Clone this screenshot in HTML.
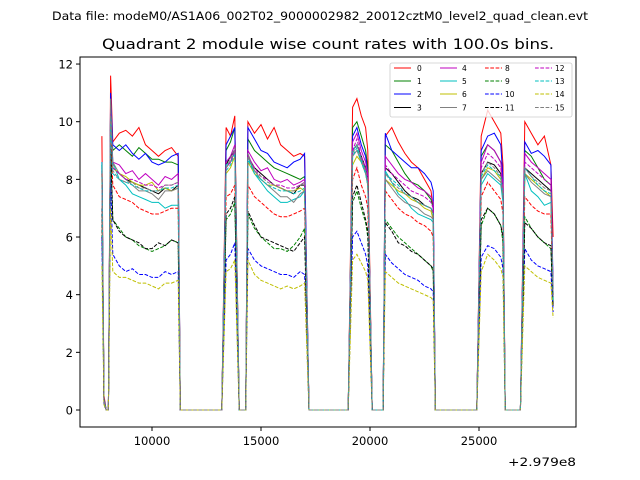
<!DOCTYPE html>
<html><head><meta charset="utf-8">
<style>
html,body{margin:0;padding:0;background:#fff;}
svg{display:block;font-family:"DejaVu Sans","Liberation Sans",sans-serif;}
</style></head>
<body>
<svg id="chart" width="640" height="480" viewBox="0 0 640 480">
<rect x="0" y="0" width="640" height="480" fill="#fff"/>
<text x="52" y="20" font-size="11.5" textLength="536" lengthAdjust="spacingAndGlyphs">Data file: modeM0/AS1A06_002T02_9000002982_20012cztM0_level2_quad_clean.evt</text>
<text x="102" y="49" font-size="14.5" textLength="452" lengthAdjust="spacingAndGlyphs">Quadrant 2 module wise count rates with 100.0s bins.</text>
<g id="plot"></g>
<rect x="80" y="57" width="496" height="370" fill="none" stroke="#000" stroke-width="1"/>
<g id="ticks"></g>
<text x="508" y="466" font-size="11.5" textLength="68" lengthAdjust="spacingAndGlyphs">+2.979e8</text>
<g id="legend"></g>
</svg>
<script>
const times = [7700,7800,7900,8000,8100,8200,8500,8800,9100,9400,9700,10000,10300,10600,10900,11200,11300,
13200,13400,13600,13800,14000,14300,
14400,14700,15000,15300,15600,15900,16200,16500,16800,17000,17200,
19000,19200,19400,19600,19800,19900,20100,
20600,20700,21000,21300,21600,21900,22200,22500,22800,22900,23000,
24900,25100,25400,25700,26000,26100,26200,
26900,27100,27400,27700,28000,28300,28400];
const s0 = [9.5,0.5,0,0,11.6,9.3,9.6,9.7,9.5,9.8,9.2,9.0,8.8,9.0,9.1,8.8,0, 0,9.8,9.5,10.2,0,0, 10.0,9.6,9.9,9.4,9.8,9.2,9.0,8.8,8.9,8.8,0, 0,10.5,10.8,10.2,9.8,9.0,0, 0,9.5,9.8,9.3,8.9,8.6,8.4,8.0,7.6,7.0,0, 0,9.5,10.4,10.0,9.6,8.5,0, 0,10.0,9.6,9.2,9.5,8.5,6.0];
const s1 = [8.5,0.4,0,0,10.5,9.0,9.2,9.0,8.8,9.1,8.9,8.7,8.7,8.6,8.6,8.5,0, 0,9.0,9.3,9.8,0,0, 9.4,9.0,8.8,8.6,8.4,8.3,8.2,8.1,8.0,8.1,0, 0,9.8,10.0,9.5,9.0,8.4,0, 0,9.2,9.0,8.6,8.2,7.9,7.8,7.6,7.3,7.0,0, 0,8.8,9.2,9.0,8.6,7.8,0, 0,9.0,8.8,8.4,8.0,7.8,4.0];
const s2 = [8.6,0.4,0,0,11.0,9.2,9.0,9.2,8.9,8.7,8.9,8.6,8.5,8.6,8.8,8.9,0, 0,9.2,9.5,9.8,0,0, 9.8,9.4,9.0,8.9,8.6,8.5,8.4,8.6,8.7,8.9,0, 0,9.5,9.8,9.2,8.8,8.2,0, 0,9.6,9.0,8.8,8.6,8.4,8.4,8.2,7.9,7.6,0, 0,9.0,9.5,9.6,9.2,8.0,0, 0,9.3,8.9,9.0,8.8,8.5,4.2];
const s3 = [8.2,0.3,0,0,10.6,8.4,8.2,8.0,7.9,7.8,7.7,7.6,7.5,7.7,7.6,7.8,0, 0,8.5,8.8,9.0,0,0, 8.8,8.4,8.2,8.0,7.8,7.7,7.6,7.5,7.8,7.8,0, 0,9.0,9.2,8.8,8.4,8.0,0, 0,8.4,8.2,7.9,7.6,7.4,7.3,7.1,7.0,6.8,0, 0,8.2,8.6,8.5,8.2,7.5,0, 0,8.4,8.2,8.0,7.8,7.6,3.8];
const s4 = [8.4,0.3,0,0,10.4,8.6,8.5,8.2,8.3,8.0,8.2,8.0,7.8,8.1,8.0,8.2,0, 0,8.6,8.8,9.2,0,0, 9.0,8.6,8.3,8.4,8.0,7.9,8.0,7.8,7.9,8.0,0, 0,9.3,9.6,9.0,8.6,8.2,0, 0,8.8,8.5,8.2,8.0,7.9,7.7,7.6,7.4,7.2,0, 0,8.6,9.2,9.0,8.6,7.8,0, 0,8.9,8.6,8.4,8.2,8.0,4.0];
const s5 = [8.6,0.3,0,0,10.0,8.6,8.0,7.8,7.5,7.4,7.3,7.2,7.2,7.0,7.1,7.1,0, 0,8.5,8.6,9.0,0,0, 8.8,8.2,7.9,7.6,7.4,7.2,7.2,7.3,7.4,7.6,0, 0,9.0,9.2,8.7,8.3,7.8,0, 0,8.3,7.9,7.5,7.3,7.0,6.8,6.7,6.6,6.5,0, 0,7.8,8.2,8.0,7.8,7.2,0, 0,8.2,7.6,7.4,7.1,7.2,4.0];
const s6 = [8.0,0.3,0,0,10.2,8.4,8.2,8.1,7.9,7.8,7.8,7.9,7.6,7.7,7.6,7.7,0, 0,8.2,8.4,8.8,0,0, 8.6,8.2,8.0,7.8,7.8,7.7,7.6,7.6,7.7,7.6,0, 0,8.5,8.8,8.6,8.2,7.8,0, 0,8.0,7.8,7.6,7.5,7.3,7.2,7.0,6.9,6.6,0, 0,8.0,8.4,8.3,8.0,7.4,0, 0,8.2,8.0,7.8,7.6,7.4,3.8];
const s7 = [8.3,0.3,0,0,10.8,8.6,8.2,8.0,7.8,7.6,7.6,7.5,7.3,7.6,7.6,7.7,0, 0,8.4,8.6,9.0,0,0, 8.9,8.3,8.0,7.8,7.6,7.4,7.4,7.2,7.5,7.6,0, 0,8.8,9.0,8.6,8.2,7.8,0, 0,8.0,7.7,7.4,7.2,7.1,7.0,6.8,6.7,6.6,0, 0,8.0,8.3,8.1,7.9,7.4,0, 0,8.2,7.9,7.7,7.5,7.4,3.9];
const s8 = [7.8,0.3,0,0,9.5,7.8,7.4,7.3,7.2,7.0,6.9,6.8,6.8,6.9,7.0,7.0,0, 0,7.4,7.5,7.8,0,0, 7.8,7.4,7.2,7.0,6.8,6.7,6.7,6.8,6.9,7.0,0, 0,8.0,8.4,7.8,7.4,7.0,0, 0,7.6,7.3,7.0,6.8,6.7,6.5,6.4,6.2,6.0,0, 0,7.4,7.9,7.6,7.3,6.8,0, 0,7.4,7.1,6.9,6.8,6.8,3.6];
const s9 = [6.8,0.2,0,0,9.0,6.6,6.3,6.0,5.9,5.7,5.6,5.5,5.6,5.7,5.9,5.8,0, 0,6.6,6.8,7.2,0,0, 6.8,6.3,6.0,5.8,5.6,5.6,5.5,5.7,6.0,6.3,0, 0,7.2,7.6,7.0,6.5,6.0,0, 0,6.6,6.3,6.0,5.8,5.6,5.4,5.2,5.0,4.8,0, 0,6.4,7.0,6.8,6.4,5.8,0, 0,6.7,6.3,6.0,5.8,5.6,3.6];
const s10 = [6.0,0.2,0,0,8.0,5.4,5.0,4.8,4.9,4.7,4.7,4.6,4.6,4.8,4.7,4.8,0, 0,5.2,5.4,5.8,0,0, 5.6,5.2,5.0,4.9,4.8,4.7,4.7,4.6,4.8,4.7,0, 0,6.0,6.2,5.8,5.4,5.0,0, 0,5.4,5.1,4.9,4.7,4.6,4.5,4.3,4.2,4.1,0, 0,5.3,5.7,5.6,5.3,4.9,0, 0,5.6,5.2,5.0,4.9,4.8,3.4];
const s11 = [7.0,0.2,0,0,9.2,6.6,6.2,6.0,5.9,5.8,5.6,5.6,5.8,5.7,5.9,5.8,0, 0,6.8,7.0,7.4,0,0, 6.9,6.4,6.0,5.9,5.8,5.7,5.6,5.5,5.8,6.0,0, 0,7.4,7.8,7.2,6.6,6.2,0, 0,6.5,6.2,5.8,5.7,5.5,5.4,5.2,5.0,4.9,0, 0,6.6,7.0,6.8,6.4,6.0,0, 0,6.5,6.3,6.0,5.8,5.7,3.6];
const s12 = [8.3,0.3,0,0,10.4,8.4,8.2,8.0,8.0,7.9,7.8,7.8,7.7,7.8,7.8,7.9,0, 0,8.4,8.6,9.0,0,0, 8.8,8.4,8.1,8.0,7.8,7.8,7.7,7.7,7.8,7.9,0, 0,9.0,9.4,8.8,8.4,8.0,0, 0,8.5,8.2,8.0,7.8,7.6,7.5,7.4,7.2,7.0,0, 0,8.4,8.9,8.7,8.4,7.6,0, 0,8.6,8.4,8.2,8.0,7.8,4.0];
const s13 = [8.5,0.3,0,0,10.2,8.2,8.0,7.9,7.8,7.7,7.6,7.6,7.6,7.7,7.7,7.8,0, 0,8.3,8.5,8.9,0,0, 8.7,8.2,8.0,7.8,7.7,7.6,7.6,7.5,7.6,7.7,0, 0,8.8,9.1,8.6,8.2,7.8,0, 0,8.2,8.0,7.8,7.5,7.4,7.2,7.1,7.0,6.8,0, 0,8.1,8.5,8.3,8.1,7.5,0, 0,8.4,8.1,7.8,7.6,7.5,3.8];
const s14 = [5.0,0.2,0,0,7.0,4.8,4.6,4.6,4.5,4.4,4.4,4.3,4.2,4.4,4.4,4.5,0, 0,4.8,4.9,5.2,0,0, 5.2,4.7,4.5,4.4,4.3,4.2,4.3,4.2,4.3,4.4,0, 0,5.2,5.4,5.1,4.8,4.5,0, 0,4.8,4.6,4.4,4.3,4.2,4.1,4.0,3.9,3.8,0, 0,4.8,5.4,5.2,4.9,4.6,0, 0,5.0,4.8,4.6,4.5,4.4,3.2];
const s15 = [8.2,0.3,0,0,10.6,8.3,8.0,7.9,7.9,7.7,7.7,7.6,7.6,7.8,7.8,7.9,0, 0,8.4,8.7,9.1,0,0, 8.8,8.3,8.1,7.9,7.8,7.7,7.6,7.6,7.8,7.9,0, 0,8.9,9.2,8.7,8.3,7.9,0, 0,8.2,7.9,7.7,7.5,7.4,7.2,7.1,7.0,6.8,0, 0,8.2,8.6,8.4,8.1,7.5,0, 0,8.4,8.1,7.9,7.7,7.6,3.9];
const seriesLabels = ["0","1","2","3","4","5","6","7","8","9","10","11","12","13","14","15"];
const yTicks = [0,2,4,6,8,10,12];
const xTicks = [10000,15000,20000,25000];

const allSeries = [s0,s1,s2,s3,s4,s5,s6,s7,s8,s9,s10,s11,s12,s13,s14,s15];
const colors = ["#ff0000","#008000","#0000ff","#000000","#bf00bf","#00bfbf","#bfbf00","#808080"];
const NS = "http://www.w3.org/2000/svg";
function xScale(v){ return 152 + (v - 10000) * 0.0218; }
function yScale(v){ return 410 - v * 28.83; }

const plot = document.getElementById('plot');
allSeries.forEach((vals, i) => {
  const p = document.createElementNS(NS, 'polyline');
  p.setAttribute('points', vals.map((v, k) => xScale(times[k]).toFixed(1) + ',' + yScale(v).toFixed(1)).join(' '));
  p.setAttribute('fill', 'none');
  p.setAttribute('stroke', colors[i % 8]);
  p.setAttribute('stroke-width', '1');
  if (i >= 8) p.setAttribute('stroke-dasharray', '3.7,1.6');
  
  
  plot.appendChild(p);
});

const ticks = document.getElementById('ticks');
yTicks.forEach(t => {
  const y = yScale(t);
  const l = document.createElementNS(NS, 'line');
  l.setAttribute('x1', 76); l.setAttribute('x2', 80); l.setAttribute('y1', y); l.setAttribute('y2', y);
  l.setAttribute('stroke', '#000');
  
  
  ticks.appendChild(l);
  const tx = document.createElementNS(NS, 'text');
  tx.setAttribute('x', 73); tx.setAttribute('y', y + 4.5);
  tx.setAttribute('font-size', '11.5'); tx.setAttribute('text-anchor', 'end');
  tx.textContent = t;
  
  
  ticks.appendChild(tx);
});
xTicks.forEach(t => {
  const x = xScale(t);
  const l = document.createElementNS(NS, 'line');
  l.setAttribute('x1', x); l.setAttribute('x2', x); l.setAttribute('y1', 427); l.setAttribute('y2', 431);
  l.setAttribute('stroke', '#000');
  
  
  ticks.appendChild(l);
  const tx = document.createElementNS(NS, 'text');
  tx.setAttribute('x', x); tx.setAttribute('y', 445);
  tx.setAttribute('font-size', '11.5'); tx.setAttribute('text-anchor', 'middle');
  tx.textContent = t;
  
  
  ticks.appendChild(tx);
});

const legend = document.getElementById('legend');
const box = document.createElementNS(NS, 'rect');
box.setAttribute('x', 390); box.setAttribute('y', 63); box.setAttribute('width', 182); box.setAttribute('height', 54);
box.setAttribute('rx', 2); box.setAttribute('fill', '#fff'); box.setAttribute('fill-opacity', '0.8');
box.setAttribute('stroke', '#ccc'); box.setAttribute('stroke-width', '0.8');


legend.appendChild(box);
const colLine = [394, 440, 485, 535];
const colText = [417, 462, 505, 555];
const rowY = [68, 81, 94, 107.5];
seriesLabels.forEach((lab, i) => {
  const c = Math.floor(i / 4), r = i % 4;
  const g = document.createElementNS(NS, 'g');
  
  
  const l = document.createElementNS(NS, 'line');
  l.setAttribute('x1', colLine[c]); l.setAttribute('x2', colLine[c] + 17);
  l.setAttribute('y1', rowY[r]); l.setAttribute('y2', rowY[r]);
  l.setAttribute('stroke', colors[i % 8]); l.setAttribute('stroke-width', '1');
  if (i >= 8) l.setAttribute('stroke-dasharray', '3.7,1.6');
  g.appendChild(l);
  const t = document.createElementNS(NS, 'text');
  t.setAttribute('x', colText[c]); t.setAttribute('y', rowY[r] + 2.8);
  t.setAttribute('font-size', '7.5');
  t.textContent = lab;
  g.appendChild(t);
  legend.appendChild(g);
});
</script>
</body></html>
